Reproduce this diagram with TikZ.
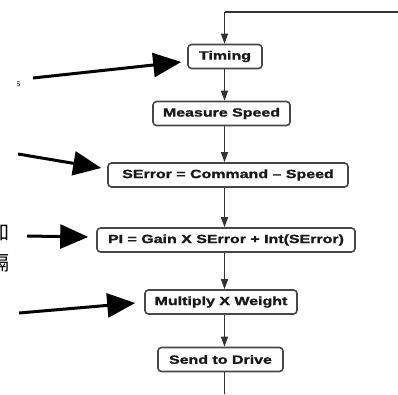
\documentclass[tikz,border=0pt]{standalone}
\usepackage{fontspec}
\setmainfont{Liberation Sans}
\newfontfamily\heavy{Liberation Sans Bold}[FakeBold=1.2]
\newfontfamily\cjk{Noto Sans CJK TC}
\usetikzlibrary{arrows.meta}
% step labels are set heavy and horizontally widened
\newcommand\wide[1]{\scalebox{1.33}[1]{#1}}
\begin{document}
\begin{tikzpicture}[x=1pt,y=-1pt,
  stepbox/.style={draw=black!72, line width=1.6pt, rounded corners=3.5pt, fill=white,
    inner sep=0pt, minimum height=24pt, text=black!90,
    font=\heavy\fontsize{12}{12}\selectfont},
  plain/.style={draw=black!80, line width=1.2pt},
  link/.style={plain, -{Triangle[length=10pt,width=7pt]}},
  pointer/.style={draw=black, line width=3pt, -{Triangle[length=28pt,width=24pt]}},
  sidenote/.style={inner sep=0pt, anchor=east, text=black}]
\useasboundingbox (0,0) rectangle (398,394);
\clip (0,0) rectangle (398,394);
\fill[white] (0,0) rectangle (398,394);

% flow steps
\node[stepbox, minimum width=74pt]  (timing)  at (225,56.5)  {\wide{Timing}};
\node[stepbox, minimum width=137pt] (measure) at (221.5,113.5) {\wide{Measure Speed}};
\node[stepbox, minimum width=240pt] (serror)  at (228,175)   {\wide{SError = Command – Speed}};
\node[stepbox, minimum width=258pt] (pi)      at (226,240)   {\wide{PI = Gain X SError + Int(SError)}};
\node[stepbox, minimum width=152pt] (mult)    at (221,302)   {\wide{Multiply X Weight}};
\node[stepbox, minimum width=125pt] (send)    at (220.5,359.5) {\wide{Send to Drive}};

% loop spine
\coordinate (loopR) at (398,12);
\coordinate (loopL) at (224.5,12);
\coordinate (exit)  at (224.5,394);
\draw[plain] (loopR) -- (loopL);
\draw[link] (loopL) -- (timing.north -| loopL);
\draw[link] (timing.south -| loopL) -- (measure.north -| loopL);
\draw[link] (measure.south -| loopL) -- (serror.north -| loopL);
\draw[link] (serror.south -| loopL) -- (pi.north -| loopL);
\draw[link] (pi.south -| loopL) -- (mult.north -| loopL);
\draw[link] (mult.south -| loopL) -- (send.north -| loopL);
\draw[plain] (send.south -| loopL) -- (exit);

% side notes (running off the left edge)
\begin{scope}
  \clip (17,0) rectangle (30,394);
  \node[sidenote, font=\fontsize{9}{9}\selectfont] (noteA) at (20.5,84) {s};
\end{scope}
\node[sidenote, font=\cjk\fontsize{20}{20}\selectfont] (noteC) at (10,232) {加};
\node[sidenote, font=\cjk\fontsize{20}{20}\selectfont] (noteD) at (10,263) {隔};

% pointers onto the steps
\coordinate (p1) at (33,78);
\coordinate (p2) at (18,154);
\coordinate (p3) at (27,236);
\coordinate (p4) at (19,313);
\draw[pointer] (p1) -- ([shift={(-6,5.5)}]timing.west);
\draw[pointer] (p2) -- ([shift={(-6,-7)}]serror.west);
\draw[pointer] (p3) -- ([shift={(-8,-3)}]pi.west);
\draw[pointer] (p4) -- ([shift={(-9,1)}]mult.west);
\end{tikzpicture}
\end{document}
